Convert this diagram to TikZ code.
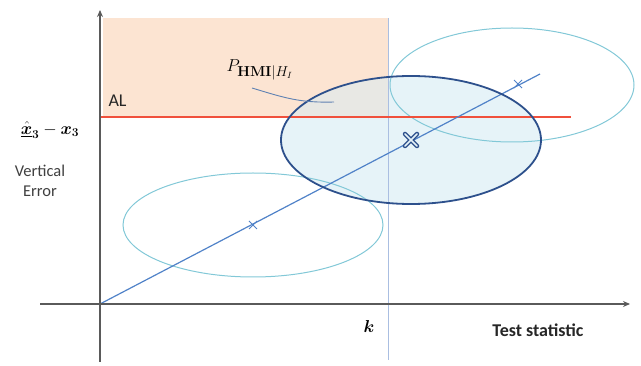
\documentclass[tikz,border=0pt]{standalone}
\usepackage{amsmath,bm}
\usepackage[no-math]{fontspec}
\setmainfont{Carlito}
\usetikzlibrary{arrows.meta}
\definecolor{axisgray}{RGB}{90,90,90}
\definecolor{peach}{RGB}{252,228,210}
\definecolor{alred}{RGB}{240,80,60}
\definecolor{kline}{RGB}{170,190,225}
\definecolor{diag}{RGB}{80,130,200}
\definecolor{lightell}{RGB}{130,200,215}
\definecolor{darkell}{RGB}{45,80,140}
\definecolor{ellfill}{RGB}{230,243,248}
\definecolor{overlap}{RGB}{232,232,228}
\tikzset{
  axis/.style={draw=axisgray, line width=1.6pt, -{Stealth[length=7pt,width=6pt]}},
  lightellipse/.style={draw=lightell, line width=1pt},
  darkellipse/.style={draw=darkell, line width=1.8pt},
  smallx/.style={draw=diag, line width=0.9pt},
  lbl/.style={font=\fontsize{18}{21}\selectfont, text=black!85},
}
\begin{document}
\begin{tikzpicture}[x=1pt,y=-1pt]
\useasboundingbox (0,0) rectangle (641,366);
% orange region
\fill[peach] (103,18) rectangle (388,117);
% big ellipse fill
\fill[ellfill] (411,140) ellipse [x radius=130, y radius=64];
\begin{scope}
  \clip (103,18) rectangle (388,117);
  \fill[overlap] (411,140) ellipse [x radius=130, y radius=64];
\end{scope}
% coordinates
\coordinate (o) at (100,304);
\coordinate (ytop) at (100,10);
\coordinate (ybot) at (100,362);
\coordinate (xleft) at (40,304);
\coordinate (xright) at (630,304);
\coordinate (ktop) at (388,18);
\coordinate (kbot) at (388,360);
\coordinate (alL) at (100,117);
\coordinate (alR) at (571,117);
\coordinate (dend) at (540,74);
% k line
\draw[kline, line width=1pt] (ktop) -- (kbot);
% light ellipses
\draw[lightellipse] (253,225) ellipse [x radius=130, y radius=52];
\draw[lightellipse] (512,85) ellipse [x radius=122, y radius=57];
% AL line
\draw[alred, line width=1.6pt] (alL) -- (alR);
% diagonal
\draw[diag, line width=1.2pt] (o) -- (dend);
% dark ellipse
\draw[darkellipse] (411,140) ellipse [x radius=130, y radius=64];
% axes
\draw[axis] (ybot) -- (ytop);
\draw[axis] (xleft) -- (xright);
% x marks
\node[inner sep=0pt, minimum size=0pt] (m1) at (253,225) {};
\draw[smallx] (249,221) -- (257,229) (249,229) -- (257,221);
\node[inner sep=0pt, minimum size=0pt] (m2) at (518,84) {};
\draw[smallx] (514,80) -- (522,88) (514,88) -- (522,80);
\node[inner sep=0pt, minimum size=0pt] (m3) at (411,140) {};
\draw[darkell, line width=4.5pt, line cap=round] (405,134) -- (417,146) (405,146) -- (417,134);
\draw[ellfill, line width=1.6pt, line cap=round] (405,134) -- (417,146) (405,146) -- (417,134);
% labels
\node[lbl, anchor=west] (al) at (105,101) {AL};
\node[anchor=west, font=\fontsize{19}{21}\selectfont] (p) at (223,70) {$P_{\mathbf{HMI}|H_I}$};
\draw[diag!70!gray, line width=0.9pt] (252,88) .. controls (285,98) and (300,103) .. (334,102);
\node[font=\fontsize{18.5}{21}\selectfont] (xe) at (50,130) {$\underline{\hat{\bm{x}}}_{\bm 3}-\bm{x}_{\bm 3}$};
\node[font=\fontsize{16.5}{20}\selectfont, align=center, text=black!75] (ve) at (40,181) {Vertical\\Error};
\node[font=\fontsize{19}{21}\selectfont] (k) at (369,327) {$\bm{k}$};
\node[font=\fontsize{18}{21}\selectfont\bfseries, text=black!85] (ts) at (538,330) {Test statistic};
\end{tikzpicture}
\end{document}
